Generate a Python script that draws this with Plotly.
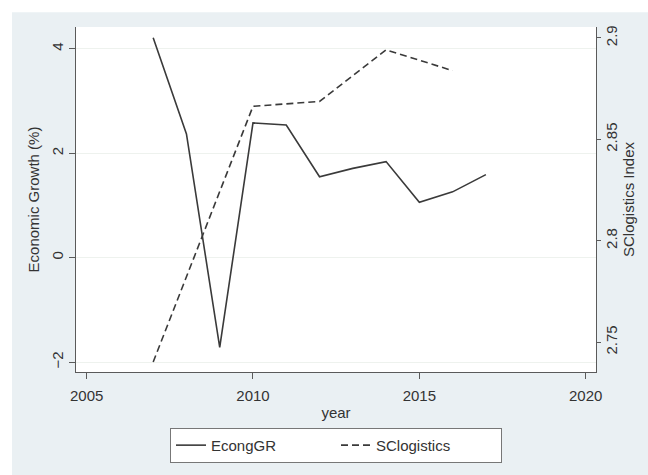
import plotly.graph_objects as go

# Annual economic growth (%)
growth_years = [2007, 2008, 2009, 2010, 2011, 2012, 2013, 2014, 2015, 2016, 2017]
econ_growth = [4.21, 2.37, -1.72, 2.58, 2.54, 1.55, 1.71, 1.84, 1.06, 1.26, 1.59]

# Supply-chain logistics index (survey years)
logistics_years = [2007, 2010, 2012, 2014, 2016]
sc_logistics = [2.7402, 2.8663, 2.8687, 2.8941, 2.8839]

x_ticks = [2005, 2010, 2015, 2020]
left_ticks = [-2, 0, 2, 4]
right_ticks = [2.75, 2.8, 2.85, 2.9]
right_tick_text = ["2.75", "2.8", "2.85", "2.9"]

LINE = "#3a3a3a"
AXIS = "#5a5a5a"
BG = "#eaf0f3"
FONT = "Liberation Sans, Arial, sans-serif"

fig = go.Figure()
fig.add_trace(go.Scatter(
    x=growth_years, y=econ_growth, name="EcongGR", mode="lines",
    line=dict(color=LINE, width=1.6), yaxis="y"))
fig.add_trace(go.Scatter(
    x=logistics_years, y=sc_logistics, name="SClogistics", mode="lines",
    line=dict(color=LINE, width=1.6, dash="7px,4px"), yaxis="y2"))

fig.update_layout(
    width=648, height=475,
    margin=dict(l=76, r=52, t=27, b=100),
    paper_bgcolor=BG, plot_bgcolor="white",
    font=dict(family=FONT, size=15, color="#333333"),
    showlegend=True,
    legend=dict(
        orientation="h", x=0.5, xanchor="center", y=-0.162, yanchor="top",
        bgcolor="white", bordercolor="#777777", borderwidth=1,
        font=dict(size=15), entrywidth=120, entrywidthmode="pixels",
        traceorder="normal"),
    xaxis=dict(
        range=[2004.68, 2020.31], tickvals=x_ticks, ticks="outside", ticklen=6,
        tickcolor=AXIS, showline=True, linecolor=AXIS, linewidth=1,
        showgrid=False, zeroline=False, ticklabelstandoff=4,
        title=dict(text="year", standoff=4, font=dict(size=15))),
    yaxis=dict(
        range=[-2.19, 4.418], tickvals=left_ticks, tickangle=-90,
        ticks="outside", ticklen=6, tickcolor=AXIS,
        showline=True, linecolor=AXIS, linewidth=1,
        showgrid=True, gridcolor="#eef2ee", gridwidth=1, zeroline=False,
        title=dict(text="Economic Growth (%)", standoff=5, font=dict(size=15))),
    yaxis2=dict(
        range=[2.7353, 2.9054], tickvals=right_ticks, ticktext=right_tick_text,
        tickangle=-90, overlaying="y", side="right",
        ticks="outside", ticklen=4, tickcolor=AXIS,
        showline=True, linecolor=AXIS, linewidth=1,
        showgrid=False, zeroline=False, ticklabelstandoff=-2,
        title=dict(text="SClogistics Index", standoff=0, font=dict(size=15))),
    shapes=[
        # thin white strips along the top and left edges of the canvas
        dict(type="rect", xref="paper", yref="paper", layer="below",
             x0=-0.2, x1=1.2, y0=(375 - 12) / 348, y1=1.2,
             fillcolor="white", line=dict(width=0)),
        dict(type="rect", xref="paper", yref="paper", layer="below",
             x0=-0.2, x1=(12 - 76) / 520, y0=-0.5, y1=1.2,
             fillcolor="white", line=dict(width=0)),
    ],
)

fig.write_html("out.html")
